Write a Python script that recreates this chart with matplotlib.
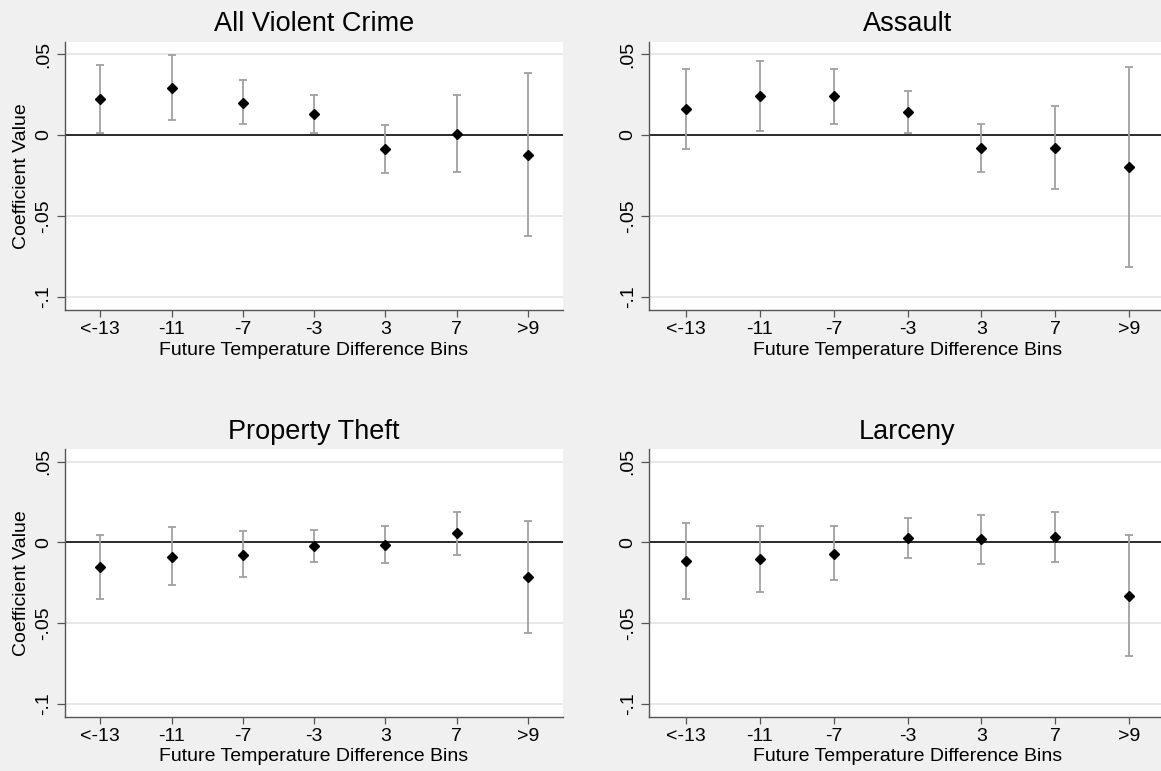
import matplotlib
matplotlib.use("Agg")
import matplotlib.pyplot as plt

plt.rcParams['font.family'] = ['Liberation Sans', 'DejaVu Sans']

bins = ["<-13", "-11", "-7", "-3", "3", "7", ">9"]

titles = ["All Violent Crime", "Assault", "Property Theft", "Larceny"]

violent_coef = [0.0223, 0.0293, 0.0198, 0.0128, -0.0089, 0.0006, -0.0124]
violent_hi = [0.0434, 0.0494, 0.0337, 0.0244, 0.0060, 0.0250, 0.0380]
violent_lo = [0.0012, 0.0093, 0.0068, 0.0012, -0.0233, -0.0227, -0.0624]

assault_coef = [0.0163, 0.0240, 0.0238, 0.0143, -0.0081, -0.0079, -0.0196]
assault_hi = [0.0407, 0.0459, 0.0409, 0.0269, 0.0068, 0.0178, 0.0421]
assault_lo = [-0.0087, 0.0025, 0.0068, 0.0012, -0.0227, -0.0331, -0.0812]

theft_coef = [-0.0155, -0.0089, -0.0076, -0.0021, -0.0014, 0.0056, -0.0215]
theft_hi = [0.0045, 0.0095, 0.0070, 0.0076, 0.0099, 0.0186, 0.0132]
theft_lo = [-0.0351, -0.0267, -0.0217, -0.0120, -0.0126, -0.0076, -0.0560]

larceny_coef = [-0.0116, -0.0103, -0.0070, 0.0025, 0.0019, 0.0031, -0.0333]
larceny_hi = [0.0120, 0.0099, 0.0099, 0.0149, 0.0167, 0.0186, 0.0043]
larceny_lo = [-0.0351, -0.0310, -0.0236, -0.0095, -0.0132, -0.0120, -0.0705]

y_ticks = [0.05, 0, -0.05, -0.1]
y_ticklabels = [".05", "0", "-.05", "-.1"]

W, H = 1161, 771
fig = plt.figure(figsize=(W / 100, H / 100), dpi=100, facecolor="#f0f0f0")

# axes boxes in pixels: left, top, right, bottom
boxes = [
    (64.7, 41.7, 563.4, 310.0),
    (649.2, 41.7, 1165.8, 310.0),
    (64.7, 449.3, 563.4, 716.7),
    (649.2, 449.3, 1165.8, 716.7),
]

panels = [
    (violent_coef, violent_lo, violent_hi),
    (assault_coef, assault_lo, assault_hi),
    (theft_coef, theft_lo, theft_hi),
    (larceny_coef, larceny_lo, larceny_hi),
]

for i, ((l, t, r, b), (coef, lo, hi), title) in enumerate(zip(boxes, panels, titles)):
    ax = fig.add_axes([l / W, (H - b) / H, (r - l) / W, (b - t) / H])
    ax.set_facecolor("white")
    x = list(range(1, len(bins) + 1))

    for yv in (0.05, -0.05, -0.1):
        ax.axhline(yv, color="#e6e6e6", lw=1.3, zorder=1)
    ax.axhline(0, color="#2a2a2a", lw=1.4, zorder=2)

    err_lo = [c - v for c, v in zip(coef, lo)]
    err_hi = [v - c for c, v in zip(coef, hi)]
    ax.errorbar(x, coef, yerr=[err_lo, err_hi], fmt="none", ecolor="#a0a0a0",
                elinewidth=1.3, capsize=2.9, capthick=1.3, zorder=3)
    ax.plot(x, coef, linestyle="none", marker="D", markersize=5.0,
            color="black", zorder=4)

    ax.set_xlim(0.5, 7.5)
    ax.set_ylim(-0.108, 0.0576)
    ax.set_xticks(x)
    ax.set_xticklabels(bins, fontsize=14)
    ax.set_yticks(y_ticks)
    ax.set_yticklabels(y_ticklabels, fontsize=14, rotation=90, va="center")

    for side in ("top", "right"):
        ax.spines[side].set_visible(False)
    for side in ("left", "bottom"):
        ax.spines[side].set_color("#555555")
        ax.spines[side].set_linewidth(1.0)

    ax.tick_params(axis="x", length=5, width=0.9, color="#555555", pad=3)
    ax.tick_params(axis="y", length=5.5, width=0.9, color="#555555", pad=3.5)

    ax.set_xlabel("Future Temperature Difference Bins", fontsize=14, labelpad=2.5)
    if i % 2 == 0:
        ax.set_ylabel("Coefficient Value", fontsize=14, labelpad=4)
    ax.set_title(title, fontsize=19.5, pad=7.5)

fig.savefig("out.png", dpi=100, facecolor=fig.get_facecolor())
